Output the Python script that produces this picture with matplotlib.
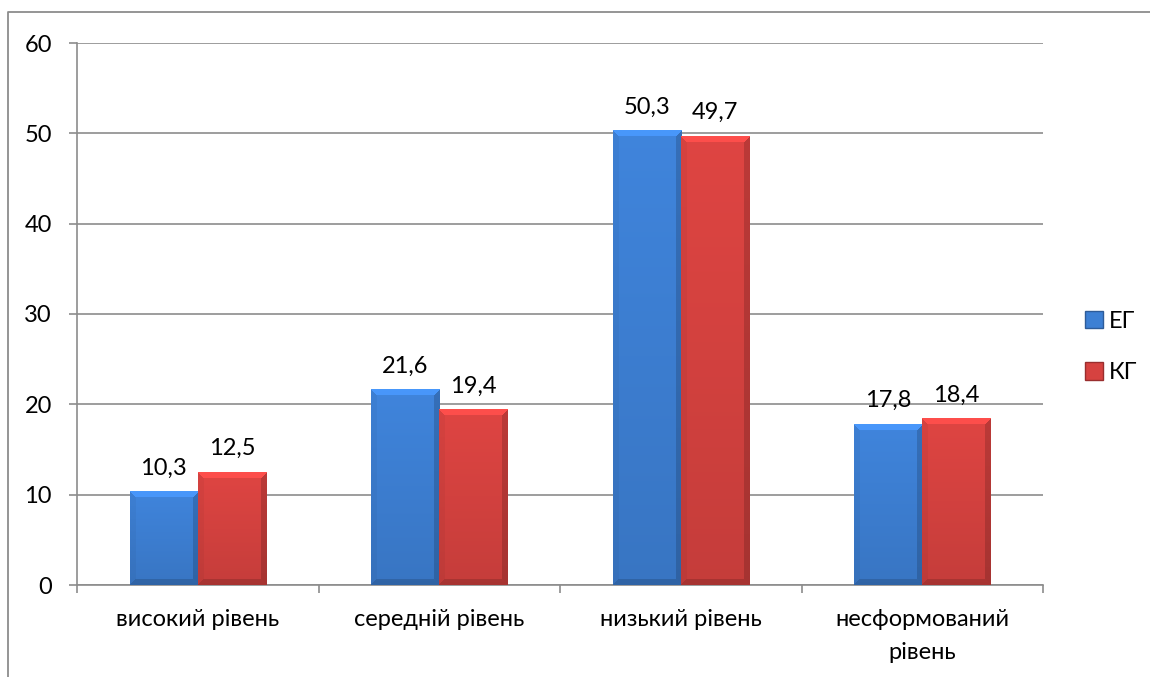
import matplotlib.pyplot as plt
import numpy as np
from matplotlib.lines import Line2D
from matplotlib.patches import Patch

plt.rcParams['font.family'] = ['Lato', 'DejaVu Sans']

categories = ['високий рівень', 'середній рівень', 'низький рівень', 'несформований\nрівень']
eg = [10.3, 21.6, 50.3, 17.8]
kg = [12.5, 19.4, 49.7, 18.4]
series = ['ЕГ', 'КГ']
yticks = [0, 10, 20, 30, 40, 50, 60]

blue = (0.24, 0.50, 0.83)
red = (0.84, 0.26, 0.25)
grey = '#8c8c8c'
fs = 17


def bevel_image(color, w_px, h_px, b=6):
    # shaded block with mitred bevel: light top, darker right and bottom
    w_px = max(int(round(w_px)), 2)
    h_px = max(int(round(h_px)), 2)
    base = np.array(color)
    yy, xx = np.mgrid[0:h_px, 0:w_px]
    shade = 1.04 - 0.12 * (yy / h_px)
    d_top, d_bot = yy, h_px - 1 - yy
    d_left, d_right = xx, w_px - 1 - xx
    d = np.stack([d_top, d_bot, d_left, d_right])
    near = d.argmin(axis=0)
    edge = d.min(axis=0) < b
    factor = np.array([1.14, 0.85, 0.96, 0.84])
    shade = np.where(edge, shade * factor[near], shade)
    img = base[None, None, :] * shade[:, :, None]
    return np.clip(img, 0, 1)


fig = plt.figure(figsize=(11.5, 6.77), dpi=100)
ax = fig.add_axes([77 / 1150, 92 / 677, 966 / 1150, 542 / 677])

x = np.arange(len(categories))
w = 0.282
bars_eg = ax.bar(x - w / 2, eg, w, color=blue, zorder=2)
bars_kg = ax.bar(x + w / 2, kg, w, color=red, zorder=2)

ax.set_xlim(-0.5, len(categories) - 0.5)
ax.set_ylim(0, 60)

px_x = 966 / len(categories)
px_y = 542 / 60
for bars, col in ((bars_eg, blue), (bars_kg, red)):
    for b in bars:
        x0, y0 = b.get_x(), b.get_y()
        bw, bh = b.get_width(), b.get_height()
        img = bevel_image(col, bw * px_x, bh * px_y)
        ax.imshow(img, extent=(x0, x0 + bw, y0, y0 + bh), aspect='auto',
                  interpolation='nearest', zorder=3)
        lbl = f'{bh}'.replace('.', ',')
        ax.text(x0 + bw / 2, bh + 1.9, lbl, ha='center', va='baseline',
                fontsize=fs, color='black', zorder=4)

ax.set_yticks(yticks)
ax.set_yticklabels([str(t) for t in yticks], fontsize=fs)
ax.set_xticks(x)
ax.set_xticklabels(categories, fontsize=fs, linespacing=1.75)
ax.set_xticks(np.arange(-0.5, len(categories)), minor=True)
ax.tick_params(axis='x', which='major', length=0, pad=17)
ax.tick_params(axis='x', which='minor', length=6, color=grey, width=1.2)
ax.tick_params(axis='y', length=6, color=grey, width=1.2, pad=12)

ax.grid(axis='y', color=grey, linewidth=1.2, zorder=0)
ax.set_axisbelow(True)
for s in ('top', 'right'):
    ax.spines[s].set_visible(False)
for s in ('left', 'bottom'):
    ax.spines[s].set_color(grey)
    ax.spines[s].set_linewidth(1.2)

handles = [Patch(facecolor=blue, edgecolor=(0.18, 0.36, 0.6)),
           Patch(facecolor=red, edgecolor=(0.6, 0.18, 0.18))]
fig.legend(handles, series, loc='center left', bbox_to_anchor=(1073 / 1150, (677 - 347) / 677),
           frameon=False, fontsize=fs, handlelength=0.75, handleheight=0.75,
           handletextpad=0.25, labelspacing=1.3, borderpad=0)

# chart area border
fig.add_artist(Line2D([8 / 1150, 8 / 1150, 1.0], [0.0, 1 - 12 / 677, 1 - 12 / 677],
                      color=grey, linewidth=1.3, transform=fig.transFigure))

fig.savefig('out.png', dpi=100)
